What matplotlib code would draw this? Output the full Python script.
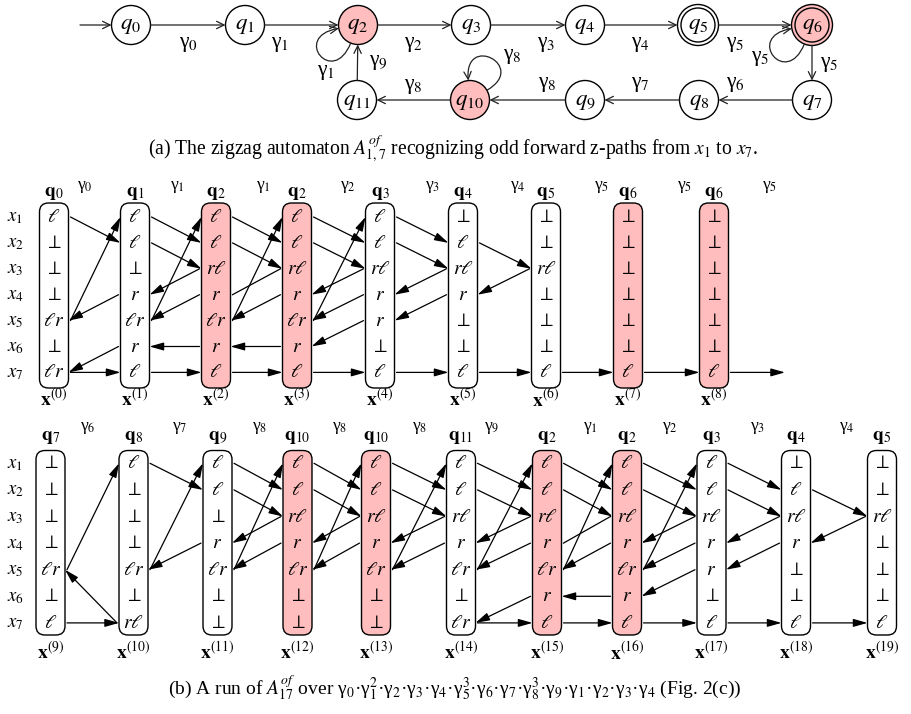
import numpy as np
import matplotlib
matplotlib.use("Agg")
import matplotlib.pyplot as plt
from matplotlib.patches import Circle, FancyBboxPatch, FancyArrowPatch
from matplotlib.path import Path

plt.rcParams['font.family'] = ['Liberation Serif', 'DejaVu Serif']
plt.rcParams['mathtext.fontset'] = 'stix'

PINK = '#ffbdbd'

# ---- automaton A_{1,7}^{of} ----
state_ids = list(range(12))
state_xy = [(131, 25), (245, 25), (358, 25), (471, 25), (585, 25), (698, 25),
            (812, 25), (812, 100), (699, 100), (585, 100), (470, 100), (357, 100)]
pink_states = [2, 6, 10]
accepting = [5, 6]
edges = [(0, 1, '0'), (1, 2, '1'), (2, 3, '2'), (3, 4, '3'), (4, 5, '4'), (5, 6, '5'),
         (6, 7, '5'), (7, 8, '6'), (8, 9, '7'), (9, 10, '8'), (10, 11, '8'), (11, 2, '9')]
edge_label_xy = [(189, 45), (280, 45), (414, 45), (546, 45), (640, 45), (735, 45),
                 (829, 64), (735, 84), (640, 84), (547, 84), (413, 86), (378, 63)]
# state, label, out angle, in angle, loop size, label position
loops = [(2, '1', -112, 190, 48, (326, 73)),
         (10, '8', 30, 95, 48, (512, 57)),
         (6, '5', -112, 190, 48, (760, 58))]

# ---- run of A_17^{of}, two rows of configurations ----
cell_tex = {'l': r'$\ell$', 'r': r'$r$', 'rl': r'$r\ell$', 'lr': r'$\ell r$', 'b': r'$\perp$'}
red_q = ['2', '6', '10']

top_q = ['0', '1', '2', '2', '3', '4', '5', '6', '6']
top_cells = [
    ['l', 'b', 'b', 'b', 'lr', 'b', 'lr'],
    ['l', 'l', 'b', 'r', 'lr', 'r', 'l'],
    ['l', 'l', 'rl', 'r', 'lr', 'r', 'l'],
    ['l', 'l', 'rl', 'r', 'lr', 'r', 'l'],
    ['l', 'l', 'rl', 'r', 'r', 'b', 'l'],
    ['b', 'l', 'rl', 'r', 'b', 'b', 'l'],
    ['b', 'b', 'rl', 'b', 'b', 'b', 'l'],
    ['b', 'b', 'b', 'b', 'b', 'b', 'l'],
    ['b', 'b', 'b', 'b', 'b', 'b', 'l'],
]
top_gamma = ['0', '1', '1', '2', '3', '4', '5', '5', '5']
top_arrows = [
    [('R', 1, 2), ('R', 5, 1), ('L', 4, 5), ('L', 6, 7), ('R', 7, 7)],
    [('R', 1, 2), ('R', 2, 3), ('L', 3, 4), ('L', 4, 5), ('R', 5, 1), ('L', 6, 6), ('R', 7, 7)],
    [('R', 1, 2), ('R', 2, 3), ('N', 3, 4), ('L', 4, 5), ('R', 5, 1), ('L', 6, 6), ('R', 7, 7)],
    [('R', 1, 2), ('R', 2, 3), ('L', 3, 4), ('L', 4, 5), ('R', 5, 1), ('L', 5, 6), ('R', 7, 7)],
    [('R', 1, 2), ('R', 2, 3), ('L', 3, 4), ('L', 4, 5), ('R', 7, 7)],
    [('R', 2, 3), ('L', 3, 4), ('R', 7, 7)],
    [('R', 7, 7)],
    [('R', 7, 7)],
]

bot_q = ['7', '8', '9', '10', '10', '11', '2', '2', '3', '4', '5']
bot_cells = [
    ['b', 'b', 'b', 'b', 'lr', 'b', 'l'],
    ['l', 'b', 'b', 'b', 'lr', 'b', 'rl'],
    ['l', 'l', 'b', 'r', 'lr', 'b', 'b'],
    ['l', 'l', 'rl', 'r', 'lr', 'b', 'b'],
    ['l', 'l', 'rl', 'r', 'lr', 'b', 'b'],
    ['l', 'l', 'rl', 'r', 'lr', 'b', 'lr'],
    ['l', 'l', 'rl', 'r', 'lr', 'r', 'l'],
    ['l', 'l', 'rl', 'r', 'lr', 'r', 'l'],
    ['l', 'l', 'rl', 'r', 'r', 'b', 'l'],
    ['b', 'l', 'rl', 'r', 'b', 'b', 'l'],
    ['b', 'b', 'rl', 'b', 'b', 'b', 'l'],
]
bot_gamma = ['6', '7', '8', '8', '8', '9', '1', '2', '3', '4']
zig = [('R', 1, 2), ('R', 2, 3), ('L', 3, 4), ('L', 4, 5), ('R', 5, 1)]
bot_arrows = [
    [('R', 5, 1), ('L', 7, 5), ('R', 7, 7)],
    [('R', 1, 2), ('L', 4, 5), ('R', 5, 1)],
    zig, zig, zig,
    zig + [('L', 6, 7), ('R', 7, 7)],
    [('R', 1, 2), ('R', 2, 3), ('N', 3, 4), ('L', 4, 5), ('R', 5, 1), ('L', 6, 6), ('R', 7, 7)],
    zig + [('L', 5, 6), ('R', 7, 7)],
    zig[:4] + [('R', 7, 7)],
    [('R', 2, 3), ('L', 3, 4), ('R', 7, 7)],
]

# layout (pixels)
top_cx = [54, 135, 216, 297, 380, 463, 546, 628, 714]
bot_cx = [50.5, 133.5, 217.5, 297.5, 376, 461, 547, 627, 711.5, 796, 882]
top_gx = [85, 177, 263, 348, 433, 518, 602, 685, 770]
bot_gx = [88, 180, 260, 340, 420, 492, 590, 670, 758, 847]
top_rows = 217 + 25.9 * np.arange(7)
bot_rows = 463.3 + 26.6 * np.arange(7)

fig = plt.figure(figsize=(9.11, 7.14), dpi=100)
ax = fig.add_axes([0, 0, 1, 1])
ax.set_xlim(0, 911)
ax.set_ylim(714, 0)
ax.axis('off')


def arrow(p, q, style='-|>', lw=0.9, ms=10, col='black'):
    ax.add_patch(FancyArrowPatch(p, q, arrowstyle=style, mutation_scale=ms, lw=lw,
                                 color=col, shrinkA=0, shrinkB=0))


# automaton
R_ST = 19.5
auto_style = '->,head_length=0.45,head_width=0.22'
for i in state_ids:
    x, y = state_xy[i]
    fc = PINK if i in pink_states else 'white'
    ax.add_patch(Circle((x, y), R_ST + (1 if i in accepting else 0), fc=fc, ec='black', lw=1.0))
    if i in accepting:
        ax.add_patch(Circle((x, y), R_ST - 2.5, fc='none', ec='black', lw=1.0))
    ax.text(x, y + 1, '$q_{%d}$' % i, fontsize=16.5, ha='center', va='center')

arrow((80, 25), (state_xy[0][0] - R_ST, 25), auto_style, lw=0.9, ms=12, col='#222222')
for (a, b, g), (lx, ly) in zip(edges, edge_label_xy):
    (x0, y0), (x1, y1) = state_xy[a], state_xy[b]
    d = np.array([x1 - x0, y1 - y0], float)
    d /= np.hypot(*d)
    ra = R_ST + (1 if a in accepting else 0)
    rb = R_ST + (1 if b in accepting else 0)
    arrow((x0 + d[0] * ra, y0 + d[1] * ra), (x1 - d[0] * rb, y1 - d[1] * rb),
          auto_style, lw=0.9, ms=12, col='#222222')
    ax.text(lx, ly, 'γ$_{%s}$' % g, fontsize=15.5, ha='center', va='center')

for s, g, ao, ai, dd, (lx, ly) in loops:
    cx, cy = state_xy[s]
    r = R_ST + (1 if s in accepting else 0)
    ao, ai = np.radians(ao), np.radians(ai)
    p0 = (cx + r * np.cos(ao), cy - r * np.sin(ao))
    p3 = (cx + r * np.cos(ai), cy - r * np.sin(ai))
    p1 = (p0[0] + dd * np.cos(ao), p0[1] - dd * np.sin(ao))
    p2 = (p3[0] + dd * np.cos(ai), p3[1] - dd * np.sin(ai))
    pth = Path([p0, p1, p2, p3], [Path.MOVETO, Path.CURVE4, Path.CURVE4, Path.CURVE4])
    ax.add_patch(FancyArrowPatch(path=pth, arrowstyle=auto_style, mutation_scale=12,
                                 lw=0.9, color='#222222'))
    ax.text(lx, ly, 'γ$_{%s}$' % g, fontsize=15.5, ha='center', va='center')

ax.text(453, 149, r'(a) The zigzag automaton $A^{of}_{1,7}$ recognizing odd forward '
        r'z-paths from $x_1$ to $x_7$.', fontsize=14.1, ha='center', va='center')

# run grids
HW = 14.5
grid_style = '-|>,head_length=0.85,head_width=0.24'


def draw_grid(cx, rows, qs, cells, gammas, gx, arrows, top, bottom, qy, gy, xy, k0):
    for i in range(7):
        ax.text(7, rows[i] + 1, '$x_{%d}$' % (i + 1), fontsize=13.5, ha='left', va='center')
    for j, x in enumerate(cx):
        fc = PINK if qs[j] in red_q else 'white'
        ax.add_patch(FancyBboxPatch((x - HW, top), 2 * HW, bottom - top,
                                    boxstyle='round,pad=0,rounding_size=9',
                                    fc=fc, ec='black', lw=1.0))
        for i, c in enumerate(cells[j]):
            ax.text(x, rows[i] + 5, cell_tex[c], fontsize=14, ha='center', va='baseline')
        ax.text(x, qy, r'$\mathbf{q}_{%s}$' % qs[j], fontsize=14, ha='center', va='center')
        ax.text(x, xy, r'$\mathbf{x}^{(%d)}$' % (k0 + j), fontsize=14, ha='center', va='center')
    for g, x in zip(gammas, gx):
        ax.text(x, gy, 'γ$_{%s}$' % g, fontsize=12.5, ha='center', va='center')
    for j, arr in enumerate(arrows):
        xl = cx[j] + HW
        xr = cx[j + 1] - HW
        for kind, a, b in arr:
            ya, yb = rows[a - 1], rows[b - 1]
            if kind == 'R':
                arrow((xl + 2, ya), (xr, yb), grid_style)
            elif kind == 'L':
                arrow((xr - 2, ya), (xl, yb), grid_style)
            else:
                ax.plot([xr - 2, xl + 2], [ya, yb], color='black', lw=0.9)


draw_grid(top_cx, top_rows, top_q, top_cells, top_gamma, top_gx, top_arrows,
          203, 388, 194, 187, 399, 0)
arrow((top_cx[-1] + HW + 2, top_rows[6]), (785, top_rows[6]), grid_style)
draw_grid(bot_cx, bot_rows, bot_q, bot_cells, bot_gamma, bot_gx, bot_arrows,
          450.5, 635, 438, 428, 652, 9)

ax.text(455, 688, r'(b) A run of $A^{of}_{17}$ over γ$_0$·γ$_1^2$·γ$_2$·γ$_3$·γ$_4$·'
        r'γ$_5^3$·γ$_6$·γ$_7$·γ$_8^3$·γ$_9$·γ$_1$·γ$_2$·γ$_3$·γ$_4$ (Fig. 2(c))',
        fontsize=14, ha='center', va='center')

fig.savefig('out.png', dpi=100)
